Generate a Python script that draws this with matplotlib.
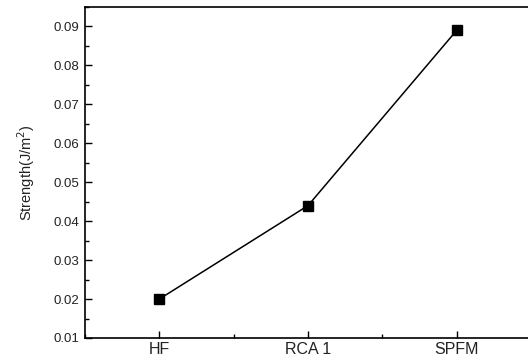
import matplotlib.pyplot as plt
from matplotlib.ticker import MultipleLocator

plt.rcParams['font.family'] = ['Liberation Sans', 'DejaVu Sans']

categories = ['HF', 'RCA 1', 'SPFM']
strength = [0.020, 0.044, 0.089]

fig = plt.figure(figsize=(5.28, 3.6), dpi=100)
ax = fig.add_axes([85 / 528, 22 / 360, 446 / 528, 331 / 360])

x = list(range(len(categories)))
ax.plot(x, strength, color='black', lw=1.1, marker='s', markersize=7)

ax.set_xlim(-0.5, 2.5)
ax.set_ylim(0.01, 0.095)
ax.set_xticks(x)
ax.set_xticklabels(categories, fontsize=11.5, color='#222222')
ax.xaxis.set_minor_locator(MultipleLocator(0.5))
ax.yaxis.set_major_locator(MultipleLocator(0.01))
ax.yaxis.set_minor_locator(MultipleLocator(0.005))
ax.set_yticklabels([f'{v:.2f}' for v in ax.get_yticks()], fontsize=9.5, color='#222222')
ax.tick_params(which='both', direction='in', width=1, top=False, right=False)
ax.tick_params(which='major', length=5)
ax.tick_params(which='minor', length=3)
ax.tick_params(axis='x', pad=3)
ax.tick_params(axis='y', pad=4)
ax.set_ylabel('Strength(J/m$^2$)', fontsize=10.5, labelpad=12, color='#222222')
for s in ax.spines.values():
    s.set_linewidth(1.2)

fig.savefig('out.png', dpi=100)
